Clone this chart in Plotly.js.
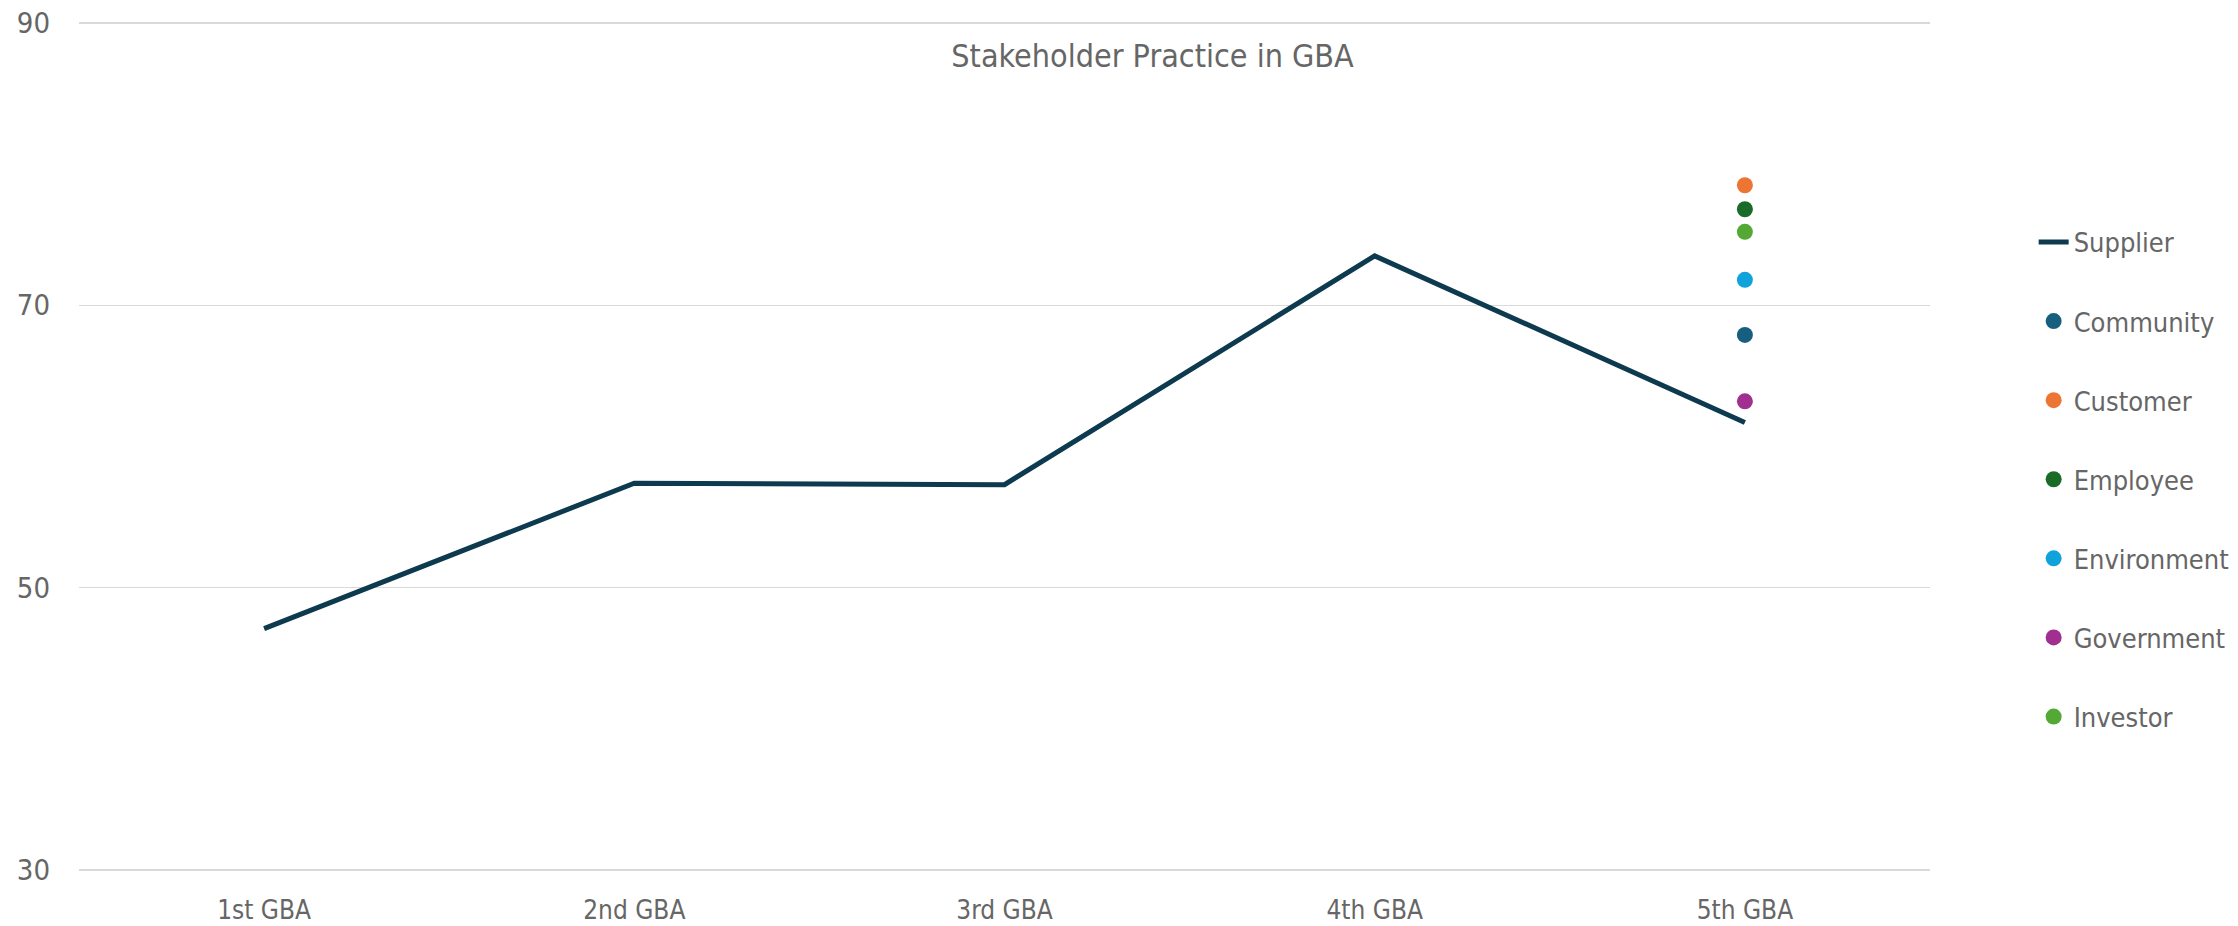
<!DOCTYPE html>
<html>
<head>
<meta charset="utf-8">
<script src="https://cdn.plot.ly/plotly-3.0.1.min.js"></script>
<style>html,body{margin:0;padding:0;background:#fff;}#chart{width:2238px;height:926px;}</style>
</head>
<body>
<div id="chart"></div>
<script>
const categories = ["1st GBA", "2nd GBA", "3rd GBA", "4th GBA", "5th GBA"];
const supplierValues = [47.1, 57.4, 57.3, 73.5, 61.7];
const pointCategory = "5th GBA";
const pointNames = ["Community", "Customer", "Employee", "Environment", "Government", "Investor"];
const pointValues = [67.9, 78.5, 76.8, 71.8, 63.2, 75.2];
const pointColors = ["#175f7f", "#ed7533", "#1b6b28", "#10a2da", "#a02f8f", "#53a933"];
const yTicks = [30, 50, 70, 90];

const FONT = "'Liberation Sans Narrow', 'DejaVu Sans Condensed', Roboto, sans-serif";
const TXT = "#666666";

const traces = [{
  x: categories, y: supplierValues, name: "Supplier", type: "scatter", mode: "lines",
  line: {color: "#0d3a4e", width: 5}, legendgroup: "g0"
}];
pointNames.forEach((n, i) => {
  traces.push({
    x: [pointCategory], y: [pointValues[i]], name: n, type: "scatter", mode: "markers",
    marker: {color: pointColors[i], size: 16}, legendgroup: "g" + (i + 1)
  });
});

const layout = {
  width: 2238, height: 926,
  margin: {l: 79, r: 308, t: 20, b: 53, autoexpand: false},
  paper_bgcolor: "#fff", plot_bgcolor: "#fff",
  font: {family: FONT, color: TXT, size: 28},
  title: {text: "Stakeholder Practice in GBA", x: 0.515, xref: "container", xanchor: "center",
          y: 1 - 56/926, yref: "container", yanchor: "middle",
          font: {family: FONT, size: 32, color: TXT}},
  xaxis: {type: "category", range: [-0.5, 4.5], showgrid: false, zeroline: false, showline: false,
          ticks: "", tickfont: {size: 26, color: TXT}, ticklabelstandoff: 19},
  yaxis: {range: [29.8, 90.2], tickvals: yTicks, ticktext: yTicks.map(String), showgrid: true,
          gridcolor: "#d9d9d9", gridwidth: 1.5, zeroline: false, showline: false, ticks: "",
          tickfont: {size: 29, color: TXT}, ticklabelstandoff: 28},
  showlegend: true,
  legend: {x: 1.056, xanchor: "left", y: 0.768, yanchor: "top", maxheight: 800,
           font: {size: 27, color: TXT}, tracegroupgap: 41, bgcolor: "rgba(0,0,0,0)"}
};

Plotly.newPlot("chart", traces, layout, {displayModeBar: false, staticPlot: true});
</script>
</body>
</html>
